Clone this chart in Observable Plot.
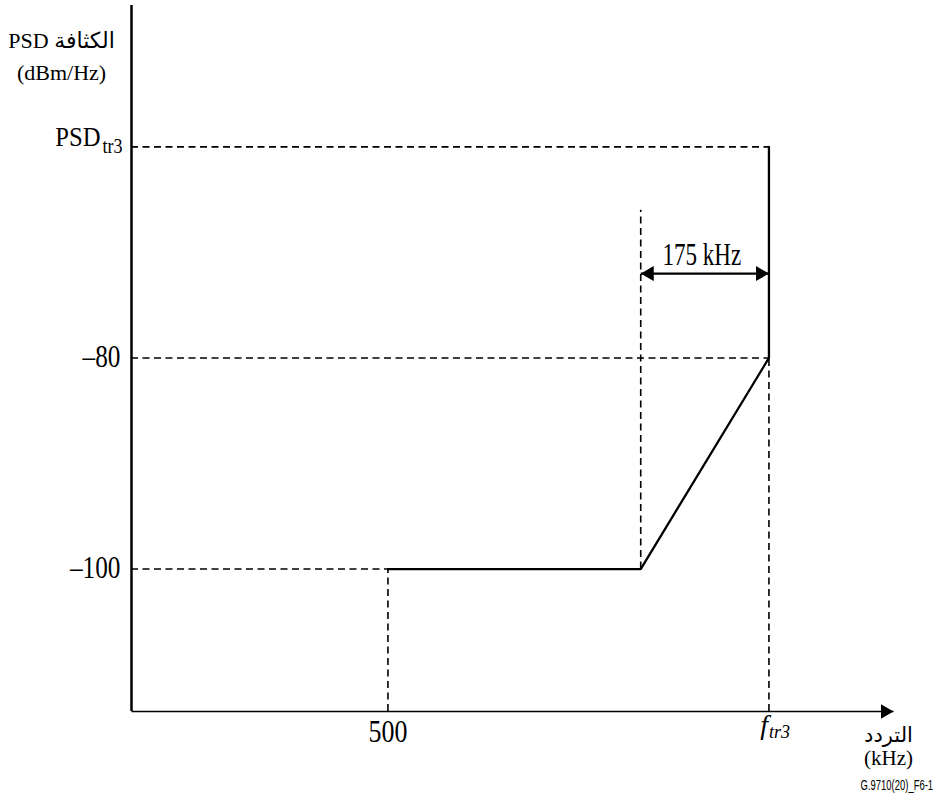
<!DOCTYPE html>
<html><head><meta charset="utf-8">
<script src="https://cdn.jsdelivr.net/npm/d3@7"></script>
<script src="https://cdn.jsdelivr.net/npm/@observablehq/plot@0.6"></script>
<style>
body{margin:0;background:#fff;}
#chart svg{display:block;}
#caption{position:relative;width:939px;height:40px;}
#caption span{position:absolute;right:6px;top:7px;font:15px "Liberation Sans",Arial,sans-serif;line-height:15px;transform:scaleX(0.63);transform-origin:right center;white-space:nowrap;color:#000;}
</style></head><body>
<div id="chart"></div>
<div id="caption"><span>G.9710(20)_F6-1</span></div>
<script>
// ---- data ----
const xDomain = [150, 1190];          // kHz (schematic)
const yDomain = [-113.5, -46.6];      // dBm/Hz (schematic)
const psdFreq = [500, 845, 1020, 1020];
const psdLevel = [-100, -100, -80, -60];
const hDashLevel = [-60, -80, -100];
const hDashEnd = [1020, 1020, 500];
const vDashFreq = [500, 1020, 845];
const vDashBottom = [-113.5, -113.5, -100];
const vDashTop = [-100, -80, -66];
const spanFreq = [845, 1020];
const spanLevel = [-72];
const spanLabel = ["175 kHz"];
const yTickValues = [-100, -80];
const yTickLabels = ["–100", "–80"];
const psdTickValue = [-60];
const psdTickLabel = ["PSD"];
const psdTickSub = ["tr3"];
const xTickValues = [500];
const xTickLabels = ["500"];
const fTickValue = [1020];
const fTickLabel = ["f"];
const fTickSub = ["tr3"];
const yAxisTitle = ["PSD الكثافة\n(dBm/Hz)"];
const xAxisTitle = ["التردد\n(kHz)"];

const serif = "Liberation Serif, Times New Roman, DejaVu Sans, serif";

function filledArrow(color, context) {
  const doc = (context && context.document) || document;
  const ns = "http://www.w3.org/2000/svg";
  const m = doc.createElementNS(ns, "marker");
  m.setAttribute("viewBox", "-13 -7.5 13 15");
  m.setAttribute("markerWidth", 13);
  m.setAttribute("markerHeight", 15);
  m.setAttribute("markerUnits", "userSpaceOnUse");
  m.setAttribute("refX", 0);
  m.setAttribute("refY", 0);
  m.setAttribute("orient", "auto-start-reverse");
  const p = doc.createElementNS(ns, "path");
  p.setAttribute("d", "M-13,-7.5L0,0L-13,7.5Z");
  p.setAttribute("fill", color);
  p.setAttribute("stroke", "none");
  m.appendChild(p);
  return m;
}

const dash = {stroke: "black", strokeWidth: 1.6, strokeDasharray: "7,4.5"};

const plot = Plot.plot({
  width: 939,
  height: 770,
  marginLeft: 131,
  marginRight: 46,
  marginTop: 5,
  marginBottom: 59,
  x: {domain: xDomain, axis: null},
  y: {domain: yDomain, axis: null},
  style: {background: "white", color: "black"},
  marks: [
    // dashed guides
    Plot.ruleY(hDashLevel, {y: d => d, x1: () => xDomain[0], x2: (d, i) => hDashEnd[i], ...dash}),
    Plot.ruleX(vDashFreq, {x: d => d, y1: (d, i) => vDashBottom[i], y2: (d, i) => vDashTop[i], ...dash}),
    // axes
    Plot.ruleX([xDomain[0]], {x: d => d, y1: () => yDomain[0], y2: () => yDomain[1], stroke: "black", strokeWidth: 2.5}),
    Plot.link([0], {x1: () => xDomain[0], x2: () => xDomain[1], y1: () => yDomain[0], y2: () => yDomain[0],
      stroke: "black", strokeWidth: 1.5, markerEnd: filledArrow}),
    // PSD mask
    Plot.line(psdFreq, {x: d => d, y: (d, i) => psdLevel[i], stroke: "black", strokeWidth: 2.3, strokeLinejoin: "miter"}),
    // 175 kHz span arrow
    Plot.link(spanLevel, {x1: () => spanFreq[0], x2: () => spanFreq[1], y1: d => d, y2: d => d,
      stroke: "black", strokeWidth: 2.2, markerStart: filledArrow, markerEnd: filledArrow}),
    Plot.text(spanLabel, {x: () => (spanFreq[0] + spanFreq[1]) / 2, y: () => spanLevel[0], text: d => d,
      fontFamily: serif, fontSize: 32, fill: "black", textAnchor: "middle", dx: -3, dy: -19, ariaDescription: "sx0.72"}),
    // y tick labels
    Plot.text(yTickValues, {x: () => xDomain[0], y: d => d, text: (d, i) => yTickLabels[i],
      fontFamily: serif, fontSize: 32, fill: "black", textAnchor: "end", dx: -11, dy: -1, ariaDescription: "sx0.79"}),
    Plot.text(psdTickValue, {x: () => xDomain[0], y: d => d, text: (d, i) => psdTickLabel[i],
      fontFamily: serif, fontSize: 28, fill: "black", textAnchor: "end", dx: -31, dy: -10, ariaDescription: "sx0.88"}),
    Plot.text(psdTickValue, {x: () => xDomain[0], y: d => d, text: (d, i) => psdTickSub[i],
      fontFamily: serif, fontSize: 20, fill: "black", textAnchor: "end", dx: -9, dy: 0, ariaDescription: "sx0.9"}),
    // x tick labels
    Plot.text(xTickValues, {x: d => d, y: () => yDomain[0], text: (d, i) => xTickLabels[i],
      fontFamily: serif, fontSize: 32, fill: "black", textAnchor: "middle", dy: 20, ariaDescription: "sx0.81"}),
    Plot.text(fTickValue, {x: d => d, y: () => yDomain[0], text: (d, i) => fTickLabel[i],
      fontFamily: serif, fontStyle: "italic", fontSize: 28, fill: "black", textAnchor: "end", dx: -1, dy: 14}),
    Plot.text(fTickValue, {x: d => d, y: () => yDomain[0], text: (d, i) => fTickSub[i],
      fontFamily: serif, fontStyle: "italic", fontSize: 19, fill: "black", textAnchor: "start", dx: 0, dy: 20, ariaDescription: "sx0.95"}),
    // axis titles
    Plot.text(yAxisTitle, {frameAnchor: "top-left", text: d => d, fontFamily: serif, fontSize: 22,
      lineHeight: 1.45, fill: "black", textAnchor: "middle", dx: -70, dy: 19.5}),
    Plot.text(xAxisTitle, {frameAnchor: "bottom-right", text: d => d, fontFamily: serif, fontSize: 21,
      lineHeight: 1.05, fill: "black", textAnchor: "middle", dx: -5, dy: 53})
  ]
});

// horizontally condense the narrow serif labels
plot.querySelectorAll('g[aria-description^="sx"]').forEach(g => {
  const s = +g.getAttribute("aria-description").slice(2);
  g.querySelectorAll("text").forEach(t => {
    let tr = t.getAttribute("transform");
    if (!tr) {
      const x = +(t.getAttribute("x") || 0), y = +(t.getAttribute("y") || 0);
      t.removeAttribute("x"); t.removeAttribute("y");
      tr = `translate(${x},${y})`;
    }
    t.setAttribute("transform", tr + ` scale(${s},1)`);
  });
  g.removeAttribute("aria-description");
});

document.getElementById("chart").appendChild(plot);
</script>
</body></html>
